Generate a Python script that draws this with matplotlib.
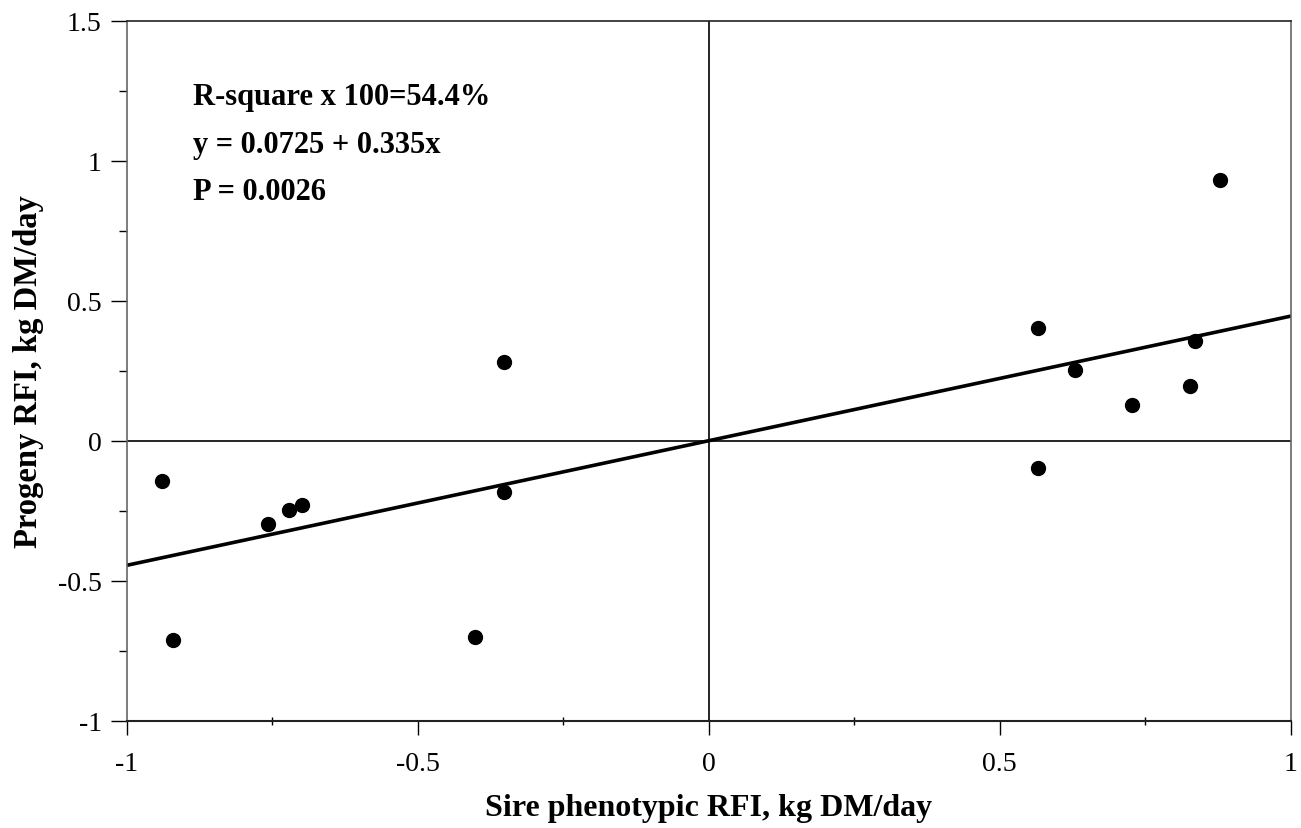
import matplotlib
matplotlib.use("Agg")
import matplotlib.pyplot as plt
from matplotlib.ticker import MultipleLocator

# Data
sire_rfi = [-0.939, -0.920, -0.758, -0.722, -0.699, -0.401, -0.352, -0.352,
            0.566, 0.566, 0.629, 0.728, 0.827, 0.836, 0.878]
progeny_rfi = [-0.145, -0.711, -0.296, -0.249, -0.231, -0.700, -0.182, 0.281,
               0.403, -0.098, 0.251, 0.129, 0.194, 0.355, 0.930]
fit_x = [-1.0, 1.0]
fit_y = [-0.445, 0.445]
stats_lines = ["R-square x 100=54.4%", "y = 0.0725 + 0.335x", "P = 0.0026"]
stats_y = [1.2025, 1.031, 0.863]
x_ticks = [-1, -0.5, 0, 0.5, 1]
x_ticklabels = ["-1", "-0.5", "0", "0.5", "1"]
y_ticks = [-1, -0.5, 0, 0.5, 1, 1.5]
y_ticklabels = ["-1", "-0.5", "0", "0.5", "1", "1.5"]

plt.rcParams['font.family'] = ['Liberation Serif', 'DejaVu Serif']

fig = plt.figure(figsize=(13.01, 8.29), dpi=100)
ax = fig.add_axes([0.0974, 0.1294, 0.8947, 0.8444])

ax.set_xlim(-1, 1)
ax.set_ylim(-1, 1.5)

ax.axhline(0, color='black', lw=1.2, zorder=1)
ax.axvline(0, color='black', lw=1.2, zorder=1)

ax.plot(fit_x, fit_y, color='black', lw=2.6, zorder=2)
ax.plot(sire_rfi, progeny_rfi, 'o', color='black', markersize=10, zorder=3)

for s, yy in zip(stats_lines, stats_y):
    ax.text(-0.886, yy, s, fontsize=22, fontweight='bold', va='baseline', ha='left')

ax.set_xticks(x_ticks)
ax.set_xticklabels(x_ticklabels)
ax.set_yticks(y_ticks)
ax.set_yticklabels(y_ticklabels)
ax.xaxis.set_minor_locator(MultipleLocator(0.25))
ax.yaxis.set_minor_locator(MultipleLocator(0.25))

ax.tick_params(axis='x', which='major', direction='out', length=10, width=1, labelsize=20, pad=12)
ax.tick_params(axis='x', which='minor', direction='inout', length=6, width=1)
ax.tick_params(axis='y', which='major', direction='out', length=11.5, width=1, labelsize=20, pad=6.5)
ax.tick_params(axis='y', which='minor', direction='out', length=6, width=1)

for side in ['left', 'right']:
    ax.spines[side].set_color('#666666')
    ax.spines[side].set_linewidth(1.2)
ax.spines['top'].set_color('#222222')
ax.spines['bottom'].set_color('#222222')
ax.spines['top'].set_linewidth(1.2)
ax.spines['bottom'].set_linewidth(1.5)

ax.set_xlabel("Sire phenotypic RFI, kg DM/day", fontsize=23, fontweight='bold', labelpad=12)
ax.set_ylabel("Progeny RFI, kg DM/day", fontsize=23.5, fontweight='bold', labelpad=10)

fig.savefig("out.png", dpi=100)
